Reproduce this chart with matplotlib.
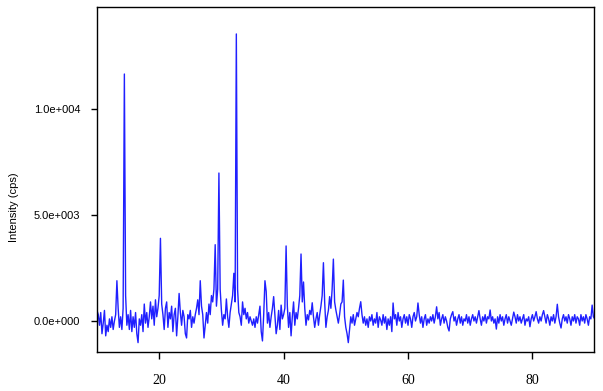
import numpy as np
import matplotlib
matplotlib.use("Agg")
import matplotlib.pyplot as plt

# two-theta grid (degrees)
x_start, x_stop, x_step = 10.0, 90.0, 0.2

# intensity values (cps), 10 per row (2 degrees per row)
intensity = [
    500, 300, -200, 400, -600, -100, 500, -700, -200, -500,
    100, -300, 200, -400, 0, 300, 1900, 600, -300, 200,
    -400, 600, 11650, 1200, -200, 300, -400, 500, -500, 200,
    -300, 400, -600, -1020, 100, -200, 300, -500, 800, -100,
    400, -300, 200, 900, 100, 700, -200, 1000, 200, 600,
    1200, 3900, 800, 300, -400, 600, 900, -300, 400, 100,
    700, -500, 300, 600, -700, 200, 1300, 400, -200, 500,
    200, -600, -800, 300, 100, 500, -300, 200, -100, 300,
    600, 1000, 300, 1900, 700, 300, -800, -200, 400, -100,
    800, 300, 1200, 900, 1500, 3600, 700, 1500, 6980, 1500,
    500, -200, 300, 100, 1040, 200, -300, 400, 800, 1200,
    2250, 900, 13540, 1500, 400, 200, -200, 900, 300, 600,
    100, 400, -100, 200, 0, -200, 100, -300, 200, -100,
    300, 700, -500, -940, 300, 1900, 1400, -100, 400, -300,
    200, 600, 1150, 300, -600, -200, 500, -400, 750, 100,
    300, 600, 3540, 700, -300, 400, -700, 200, 900, -200,
    400, 100, 600, 1200, 3160, 900, 1840, 600, -200, 300,
    50, 500, 300, 860, 200, -300, 100, 400, -200, 300,
    700, 1200, 2750, 900, -300, 200, 500, 1150, 600, 1500,
    2920, 900, 520, 200, -100, 300, 800, 900, 1930, 200,
    -300, -600, -1020, -400, 200, -100, 300, -200, 100, 400,
    200, 600, 910, 300, -100, 200, -200, 100, -300, 200,
    0, 300, -200, 100, -100, 400, -300, 200, 50, -200,
    300, -100, 200, -400, 100, -200, 200, -500, 850, 100,
    300, -200, 400, 0, 200, -300, 100, 300, -100, 200,
    -200, 300, 100, -300, 200, 400, 0, 200, 850, 300,
    -100, 200, -300, 100, 300, -200, 100, -100, 200, 0,
    300, -100, 200, 670, 100, 400, -200, 100, 300, -100,
    200, 0, -300, -470, 100, 300, 440, 0, 200, -200,
    100, 300, -100, 200, -200, 100, 0, 300, -100, 200,
    -200, 100, 300, 0, 200, -100, 200, 490, 100, -200,
    200, 0, 300, -100, 200, 100, 520, 0, 200, -100,
    100, -380, 200, -100, 300, 0, 200, -200, 100, 300,
    -100, 200, 0, -200, 100, 420, 200, -100, 300, 0,
    200, -100, 100, 300, -200, 100, 0, 200, -270, 100,
    300, 0, 200, 440, 100, -100, 200, 0, 300, 490,
    200, -100, 300, 100, -200, 200, 0, 300, -100, 200,
    790, 200, -100, -330, 100, 300, 0, 200, -100, 300,
    100, -200, 200, 0, 300, -100, 200, 100, -200, 300,
    0, 200, -100, 300, 100, -200, 200, 100, 750, 200,
    100,
]

x_ticks = [20, 40, 60, 80]
y_ticks = [0, 5000, 10000]
y_tick_labels = ["0.0e+000", "5.0e+003", "1.0e+004"]
y_label = "Intensity (cps)"

two_theta = x_start + x_step * np.arange(len(intensity))

fig = plt.figure(figsize=(6.03, 3.91), dpi=100)
ax = fig.add_axes([97 / 603, 1 - 352 / 391, (594 - 97) / 603, (352 - 7) / 391])

ax.plot(two_theta, intensity, color="#1414ff", lw=1.0, alpha=0.95)

ax.set_xlim(10.0, 89.9)
ax.set_ylim(-1462, 14811)

ax.set_xticks(x_ticks)
ax.set_xticklabels([str(t) for t in x_ticks], family="Liberation Serif", fontsize=10)
ax.set_yticks(y_ticks)
ax.set_yticklabels(y_tick_labels, family="Liberation Sans", fontsize=8)

ax.tick_params(axis="x", direction="out", length=5, width=1, pad=11)
ax.tick_params(axis="y", direction="out", length=4, width=1, pad=8)
for s in ax.spines.values():
    s.set_linewidth(1.0)
    s.set_color("black")

fig.text(14 / 603, 1 - 207 / 391, y_label, rotation=90, ha="center", va="center",
         family="Liberation Sans", fontsize=8)

fig.savefig("out.png", dpi=100)
